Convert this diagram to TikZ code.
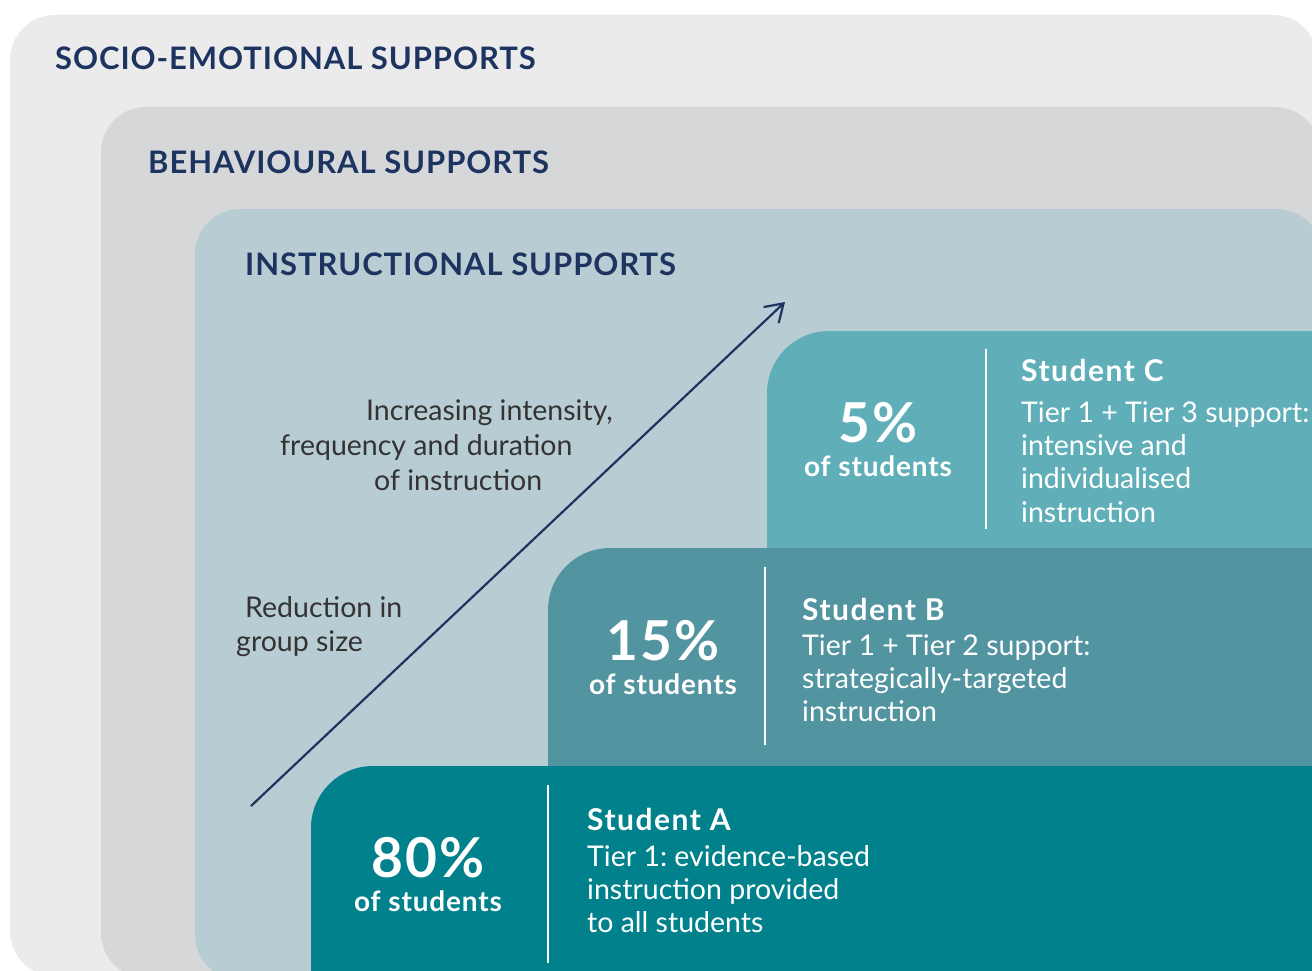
\documentclass[tikz,border=0pt]{standalone}
\usepackage{fontspec}
\setmainfont{Lato}
\usetikzlibrary{arrows.meta}
\definecolor{socio}{HTML}{EBEBEB}
\definecolor{behav}{HTML}{D6D7D9}
\definecolor{instr}{HTML}{B8CDD3}
\definecolor{tierc}{HTML}{60AFB8}
\definecolor{tierb}{HTML}{5294A0}
\definecolor{tiera}{HTML}{00818C}
\definecolor{navy}{HTML}{1D3461}
\definecolor{graytxt}{HTML}{333333}
\frenchspacing
\begin{document}
\begin{tikzpicture}[x=1pt,y=-1pt,
  ttl/.style={inner sep=0pt,anchor=base west,text=navy,font=\fontsize{31}{36}\selectfont\bfseries\addfontfeatures{LetterSpace=3}},
  pct/.style={inner sep=0pt,anchor=base,text=white,font=\fontsize{55}{60}\selectfont\bfseries\addfontfeatures{LetterSpace=3}},
  pctsub/.style={inner sep=0pt,anchor=base,text=white,font=\fontsize{28}{32}\selectfont\bfseries\addfontfeatures{LetterSpace=3}},
  stname/.style={inner sep=0pt,anchor=base west,text=white,font=\fontsize{30}{34}\selectfont\bfseries\addfontfeatures{LetterSpace=5}},
  body/.style={inner sep=0pt,anchor=base west,text=white,font=\fontsize{28.5}{33}\selectfont\frenchspacing},
  note/.style={inner sep=0pt,anchor=base west,text=graytxt,font=\fontsize{28.5}{35}\selectfont},
  divider/.style={draw=white,line width=1.6pt},
  region/.style={rounded corners=45pt},
  tierbox/.style={rounded corners=62pt}]
\useasboundingbox (0,0) rectangle (1312,971);
\clip (0,0) rectangle (1312,971);
\fill[white] (0,0) rectangle (1312,971);
% nested support regions
\fill[socio,region] (10,15) rectangle (1318,976);
\fill[behav,region] (101,107) rectangle (1320,978);
\fill[instr,region] (195,209) rectangle (1322,980);
% titles
\node[ttl] (tsocio) at (55,70) {SOCIO-EMOTIONAL SUPPORTS};
\node[ttl] (tbehav) at (148,173) {BEHAVIOURAL SUPPORTS};
\node[ttl] (tinstr) at (245,275) {INSTRUCTIONAL SUPPORTS};
% tier boxes
\fill[tierc,tierbox] (767,331) rectangle (1450,1100);
\fill[tierb,tierbox] (548,548) rectangle (1450,1100);
\fill[tiera,tierbox] (311,766) rectangle (1450,1100);
% dividers
\coordinate (dc1) at (986,349); \coordinate (dc2) at (986,529);
\coordinate (db1) at (765,567); \coordinate (db2) at (765,745);
\coordinate (da1) at (548,785); \coordinate (da2) at (548,963);
\draw[divider] (dc1) -- (dc2);
\draw[divider] (db1) -- (db2);
\draw[divider] (da1) -- (da2);
% tier C
\node[pct] (pc) at (878,442) {5\%};
\node[pctsub] (pcs) at (878,476) {of students};
\node[stname] (sc) at (1021,381) {Student C};
\node[body] (c1) at (1021,422) {Tier 1 + Tier 3 support:};
\node[body] (c2) at (1021,455) {intensive and};
\node[body] (c3) at (1021,488) {individualised};
\node[body] (c4) at (1021,522) {instruction};
% tier B
\node[pct] (pb) at (663,660) {15\%};
\node[pctsub] (pbs) at (663,694) {of students};
\node[stname] (sb) at (802,620) {Student B};
\node[body] (b1) at (802,655) {Tier 1 + Tier 2 support:};
\node[body] (b2) at (802,688) {strategically-targeted};
\node[body] (b3) at (802,721) {instruction};
% tier A
\node[pct] (pa) at (428,877) {80\%};
\node[pctsub] (pas) at (428,911) {of students};
\node[stname] (sa) at (587,830) {Student A};
\node[body] (a1) at (587,866) {Tier 1: evidence-based};
\node[body] (a2) at (587,899) {instruction provided};
\node[body] (a3) at (587,932) {to all students};
% notes
\node[note] (n1) at (366,420) {Increasing intensity,};
\node[note] (n2) at (280,455) {frequency and duration};
\node[note] (n3) at (374,490) {of instruction};
\node[note] (r1) at (245,617) {Reduction in};
\node[note] (r2) at (236,651) {group size};
% arrow
\coordinate (arrs) at (251,806);
\coordinate (arre) at (785,302);
\draw[navy,line width=2.2pt,-{Straight Barb[length=17pt,width=22pt,line width=2.2pt]}] (arrs) -- (arre);
\end{tikzpicture}
\end{document}
